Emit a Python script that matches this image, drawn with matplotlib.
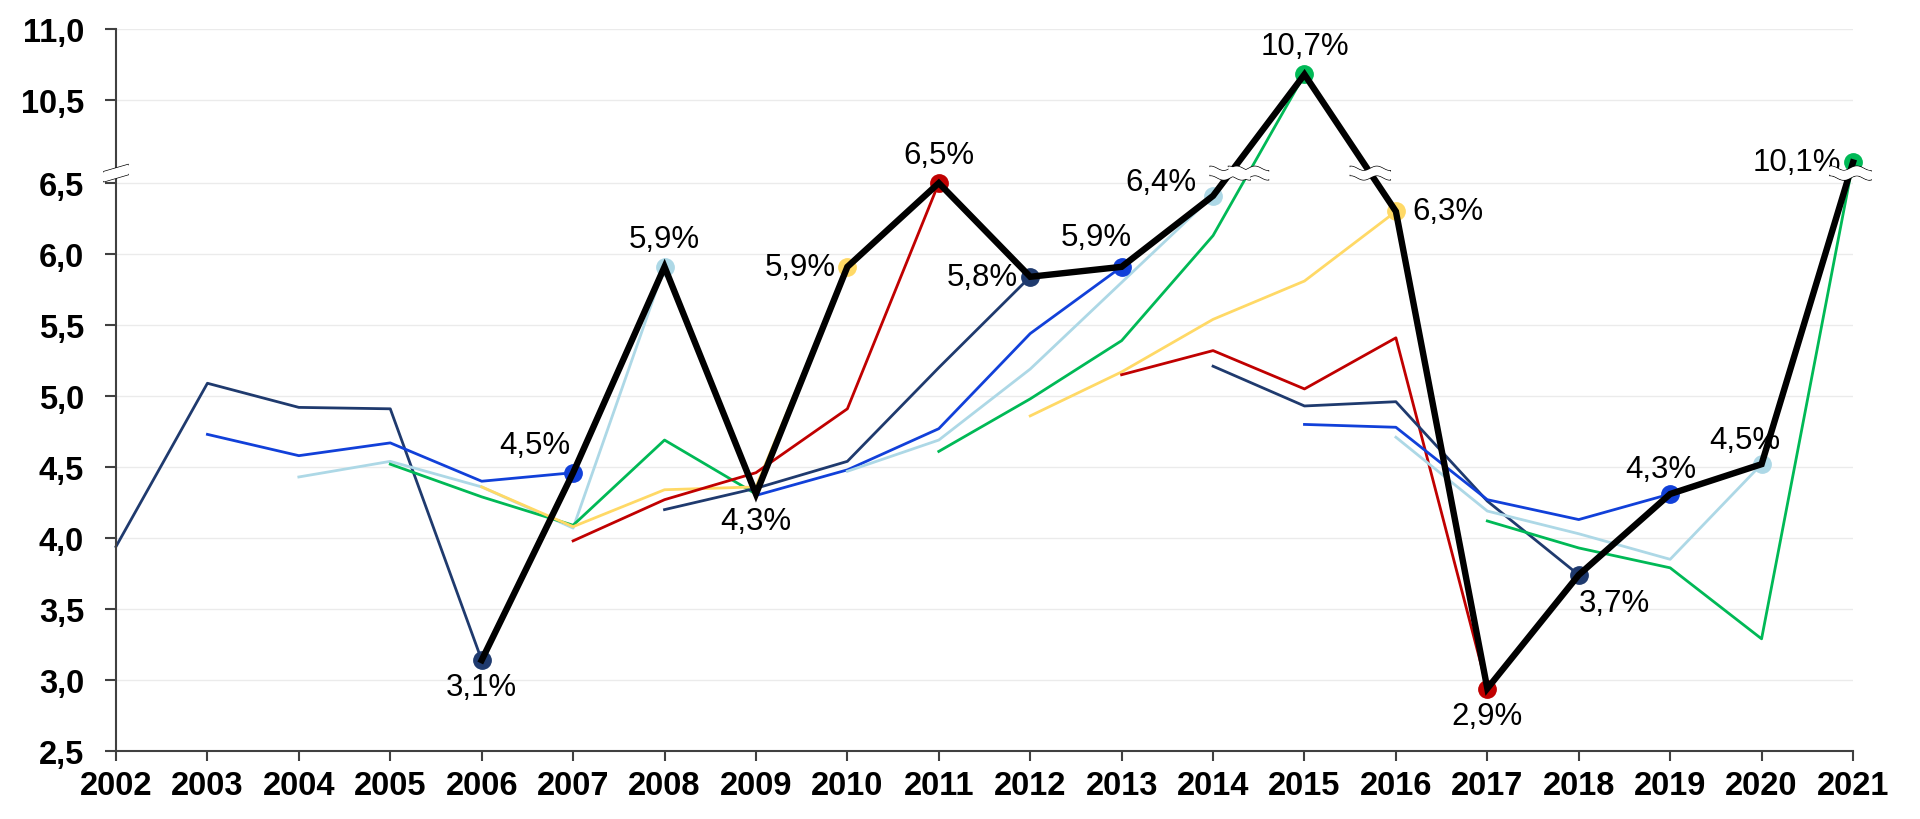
import numpy as np
import matplotlib
matplotlib.use("Agg")
import matplotlib.pyplot as plt
from matplotlib.ticker import FixedLocator, FuncFormatter, NullLocator

plt.rcParams['font.family'] = ['Liberation Sans', 'DejaVu Sans']

# realised values (black line), one per year
actual_years = list(range(2006, 2022))
actual = [3.14, 4.46, 5.91, 4.31, 5.91, 6.50, 5.84, 5.91,
          6.41, 10.68, 6.30, 2.94, 3.74, 4.31, 4.52, 10.06]
# 2009 has no coloured dot in the original
show_dot = [True, True, True, False, True, True, True, True,
            True, True, True, True, True, True, True, True]

# the four values before each realised point (coloured lines)
forecasts = [
    [3.94, 5.09, 4.92, 4.91],
    [4.73, 4.58, 4.67, 4.40],
    [4.43, 4.54, 4.36, 4.07],
    [4.52, 4.29, 4.09, 4.69],
    [4.36, 4.08, 4.34, 4.36],
    [3.98, 4.27, 4.46, 4.91],
    [4.20, 4.35, 4.54, 5.20],
    [4.30, 4.48, 4.77, 5.44],
    [4.47, 4.69, 5.19, 5.80],
    [4.61, 4.98, 5.39, 6.13],
    [4.86, 5.17, 5.54, 5.81],
    [5.15, 5.32, 5.05, 5.41],
    [5.21, 4.93, 4.96, 4.26],
    [4.80, 4.78, 4.27, 4.13],
    [4.71, 4.19, 4.03, 3.85],
    [4.12, 3.93, 3.79, 3.29],
]

yticks = [2.5, 3.0, 3.5, 4.0, 4.5, 5.0, 5.5, 6.0, 6.5, 10.5, 11.0]

palette = ["#1F3A6E", "#1140D9", "#ADD8E6", "#00B956", "#FFD966", "#C00000"]

# label placement per realised point: (dx px, dy px, ha)
place = {
    'above': (0, 28, 'center'), 'below': (0, -27, 'center'),
    'left': (-12, 0, 'right'), 'right': (16, 0, 'left'),
    'al': (-3, 28, 'right'), 'a13': (-25, 30, 'center'),
    'l14': (-17, 14, 'right'), 'br': (0, -28, 'left'),
    'a19': (-9, 25, 'center'), 'a20': (-17, 24, 'center'),
}
label_place = ['below', 'al', 'above', 'below', 'left', 'above', 'left', 'a13',
               'l14', 'above', 'right', 'below', 'br', 'a19', 'a20', 'left']

# broken axis: everything between 6.5 and ~9.9 is cut out
GAP = 3.415
BREAK_AT = 6.57


def fwd(v):
    v = np.asarray(v, dtype=float)
    return np.where(v <= 6.5, v, np.maximum(v - GAP, 6.5))


def inv(u):
    u = np.asarray(u, dtype=float)
    return np.where(u <= 6.5, u, u + GAP)


fig = plt.figure(figsize=(19.2, 8.2), dpi=100)
ax = fig.add_axes([116 / 1920, 68 / 820, (1853 - 116) / 1920, 722 / 820])
ax.set_yscale('function', functions=(fwd, inv))
ax.set_ylim(2.5, 11.0)
ax.set_xlim(2002, 2021)

for i, end in enumerate(actual_years):
    col = palette[i % len(palette)]
    xs = list(range(end - 4, end + 1))
    ys = forecasts[i] + [actual[i]]
    ax.plot(xs, ys, color=col, lw=2.0, zorder=2, clip_on=False)
    if show_dot[i]:
        ax.plot(end, actual[i], 'o', color=col, ms=12.5, zorder=3, clip_on=False)

ax.plot(actual_years, actual, color='black', lw=4.6, zorder=4, clip_on=False,
        solid_joinstyle='miter')

for i, end in enumerate(actual_years):
    dx, dy, ha = place[label_place[i]]
    txt = f"{actual[i]:.1f}".replace('.', ',') + '%'
    ax.annotate(txt, (end, actual[i]), xytext=(dx, dy), textcoords='offset pixels',
                ha=ha, va='center', fontsize=22.5, zorder=6, annotation_clip=False)

ax.yaxis.set_major_locator(FixedLocator(yticks))
ax.yaxis.set_minor_locator(NullLocator())
ax.yaxis.set_major_formatter(FuncFormatter(lambda v, p: f"{v:.1f}".replace('.', ',')))
ax.set_xticks(list(range(2002, 2022)))
ax.set_xticklabels([str(y) for y in range(2002, 2022)])
for lab in ax.get_xticklabels() + ax.get_yticklabels():
    lab.set_fontweight('bold')
    lab.set_fontsize(23.5)
ax.tick_params(axis='x', direction='out', length=7, width=1.5, color='#404040', pad=7)
ax.tick_params(axis='y', direction='out', length=8, width=1.5, color='#404040', pad=15)

ax.set_axisbelow(True)
ax.yaxis.grid(True, color='#EBEBEB', lw=1)
for s in ['top', 'right']:
    ax.spines[s].set_visible(False)
for s in ['left', 'bottom']:
    ax.spines[s].set_color('#404040')
    ax.spines[s].set_linewidth(1.5)

to_fig = fig.transFigure.inverted()
y_break = float(inv(BREAK_AT))


def wavy_break(xd):
    cx, cy = ax.transData.transform((xd, y_break))
    t = np.linspace(-20, 20, 60)
    w = 2.2 * np.sin(2 * np.pi * t / 26)
    up = np.column_stack([cx + t, cy + 4.5 + w])
    lo = np.column_stack([cx + t, cy - 4.5 + w])
    poly = np.vstack([up, lo[::-1]])
    pf = to_fig.transform(poly)
    fig.patches.append(plt.Polygon(pf, closed=True, facecolor='white', edgecolor='none',
                                   transform=fig.transFigure, zorder=5))
    for arr in (up, lo):
        a = to_fig.transform(arr)
        fig.add_artist(plt.Line2D(a[:, 0], a[:, 1], color='black', lw=1.0,
                                  transform=fig.transFigure, zorder=5))


def crossings(xs, ys):
    out = []
    m = fwd(ys)
    for k in range(len(xs) - 1):
        lo_, hi_ = sorted([m[k], m[k + 1]])
        if lo_ < BREAK_AT < hi_ and max(ys[k], ys[k + 1]) > 6.5 + GAP:
            f = (BREAK_AT - m[k]) / (m[k + 1] - m[k])
            out.append(xs[k] + f * (xs[k + 1] - xs[k]))
    return out


for xc in crossings(actual_years, actual):
    wavy_break(xc)
for i, end in enumerate(actual_years):
    for xc in crossings(list(range(end - 4, end + 1)), forecasts[i] + [actual[i]]):
        wavy_break(xc)

# break sign on the y axis
ax_x, ax_y = ax.transData.transform((2002, y_break))
sx = np.array([-12, 12])
sy = np.array([-3.5, 3.5])
up = np.column_stack([ax_x + sx, ax_y + 5 + sy])
lo = np.column_stack([ax_x + sx, ax_y - 5 + sy])
fig.patches.append(plt.Polygon(to_fig.transform(np.vstack([up, lo[::-1]])), closed=True,
                               facecolor='white', edgecolor='none',
                               transform=fig.transFigure, zorder=5))
for arr in (up, lo):
    a = to_fig.transform(arr)
    fig.add_artist(plt.Line2D(a[:, 0], a[:, 1], color='black', lw=1.0,
                              transform=fig.transFigure, zorder=5))

fig.savefig("out.png", dpi=100, facecolor='white')
